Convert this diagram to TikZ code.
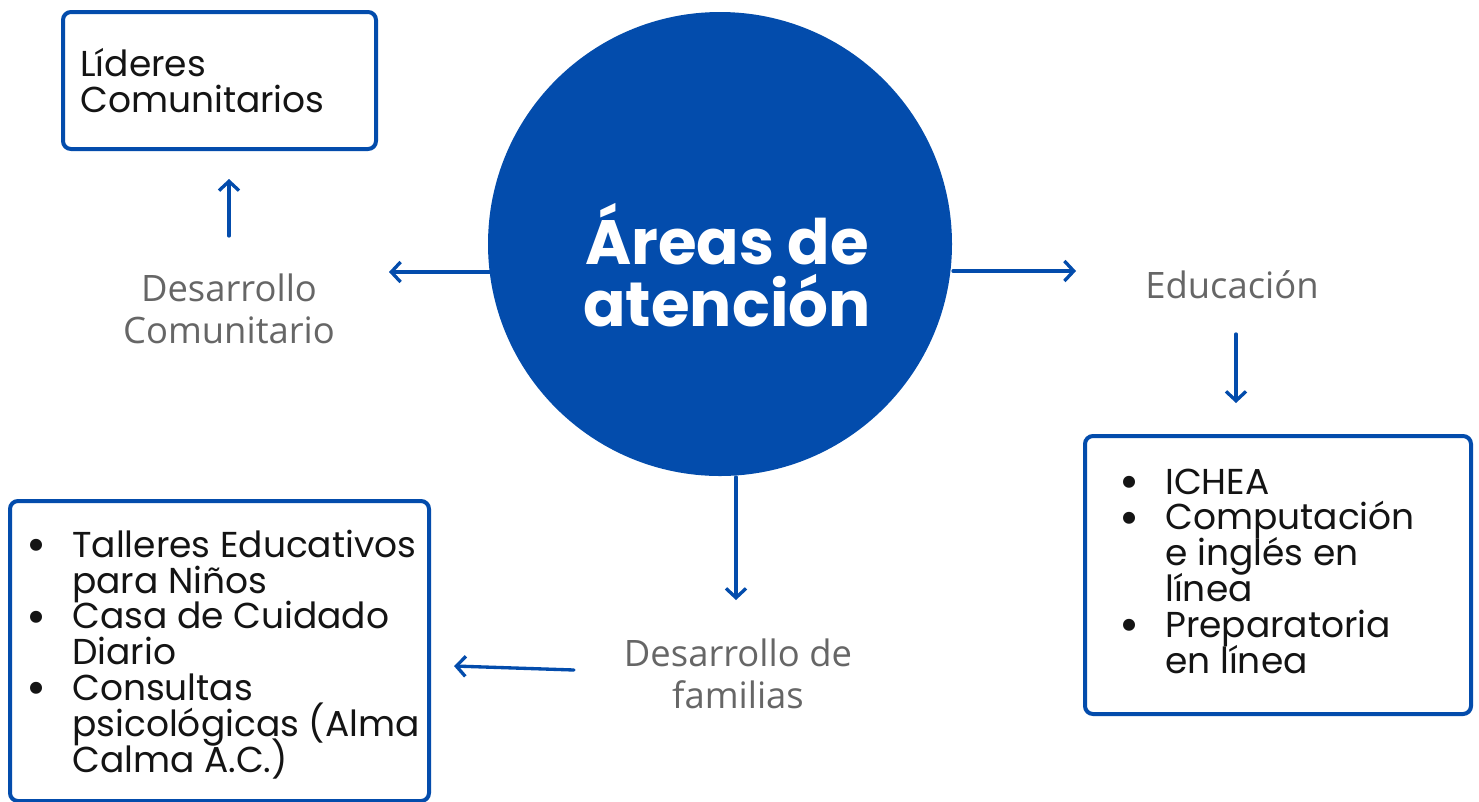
\documentclass[tikz,border=0pt]{standalone}
\usepackage{fontspec}
\setmainfont{Poppins}
\newfontfamily\labelfont{Open Sans}
\newfontfamily\titlefont{Poppins}[UprightFont=* Bold]
\usetikzlibrary{arrows.meta,calc}
\definecolor{mainblue}{RGB}{3,76,172}
\definecolor{labelgray}{RGB}{102,102,102}
\definecolor{textblack}{RGB}{20,20,20}
\newcommand{\tightlines}{\lineskiplimit=-30pt\relax\lineskip=0pt\relax}
\tikzset{
  boxstyle/.style={draw=mainblue, line width=3pt, rounded corners=6pt},
  arr/.style={draw=mainblue, line width=2.5pt, line cap=round,
    -{Straight Barb[length=7pt,width=15pt,line width=2.5pt]}},
  graylabel/.style={text=labelgray, font=\labelfont\fontsize{27.3}{31}\selectfont, align=center, inner sep=0pt},
  boxtext/.style={text=textblack, font=\fontsize{27}{26.85}\selectfont\tightlines, align=left, inner sep=0pt, anchor=base west},
}
\newcommand{\bul}{\llap{\raisebox{-0.12em}{\scalebox{1.35}{•}}\hspace{0.72em}}}
\begin{document}
\begin{tikzpicture}[x=0.75pt,y=-0.75pt]
\useasboundingbox (0,0) rectangle (1479,801);
\fill[white] (0,0) rectangle (1479,801);
% central circle
\node[circle, fill=mainblue, minimum size=348pt, inner sep=0pt] (circ) at (720,244) {};
\node[text=white, font=\titlefont\fontsize{47}{46.5}\selectfont, align=center, anchor=base] (title) at (727,326) {Áreas de\\atención};
% top-left box
\draw[boxstyle] (63,12) rectangle (376,149);
\node[boxtext] (lideres) at (80,112) {Líderes\\Comunitarios};
% labels
\node[graylabel, anchor=base] (desc) at (229,343) {Desarrollo\\Comunitario};
\node[graylabel, anchor=base] (edu) at (1232,298) {Educación};
\node[graylabel, anchor=base] (desf) at (738,708) {Desarrollo de\\familias};
% right box
\draw[boxstyle] (1085,436) rectangle (1471,714);
\node[boxtext] (edlist) at (1165,673) {\bul ICHEA\\\bul Computación\\e inglés en\\línea\\\bul Preparatoria\\en línea};
% bottom-left box
\draw[boxstyle] (10,501) rectangle (429,801);
\node[boxtext] (famlist) at (72,772) {\bul Talleres Educativos\\para Niños\\\bul Casa de Cuidado\\Diario\\\bul Consultas\\psicológicas (Alma\\Calma A.C.)};
% arrow coordinates
\coordinate (cl) at (490,272);
\coordinate (clend) at (389,272);
\coordinate (cr) at (953,271);
\coordinate (crend) at (1076,271);
\coordinate (cb) at (736,477);
\coordinate (cbend) at (736,600);
\coordinate (dcs) at (229,236);
\coordinate (dce) at (229,179);
\coordinate (eds) at (1236,334);
\coordinate (ede) at (1236,403);
\coordinate (dfs) at (574,670);
\coordinate (dfe) at (454,666);
\draw[arr] (cl) -- (clend);
\draw[arr] (cr) -- (crend);
\draw[arr] (cb) -- (cbend);
\draw[arr] (dcs) -- (dce);
\draw[arr] (eds) -- (ede);
\draw[arr] (dfs) -- (dfe);
\end{tikzpicture}
\end{document}
